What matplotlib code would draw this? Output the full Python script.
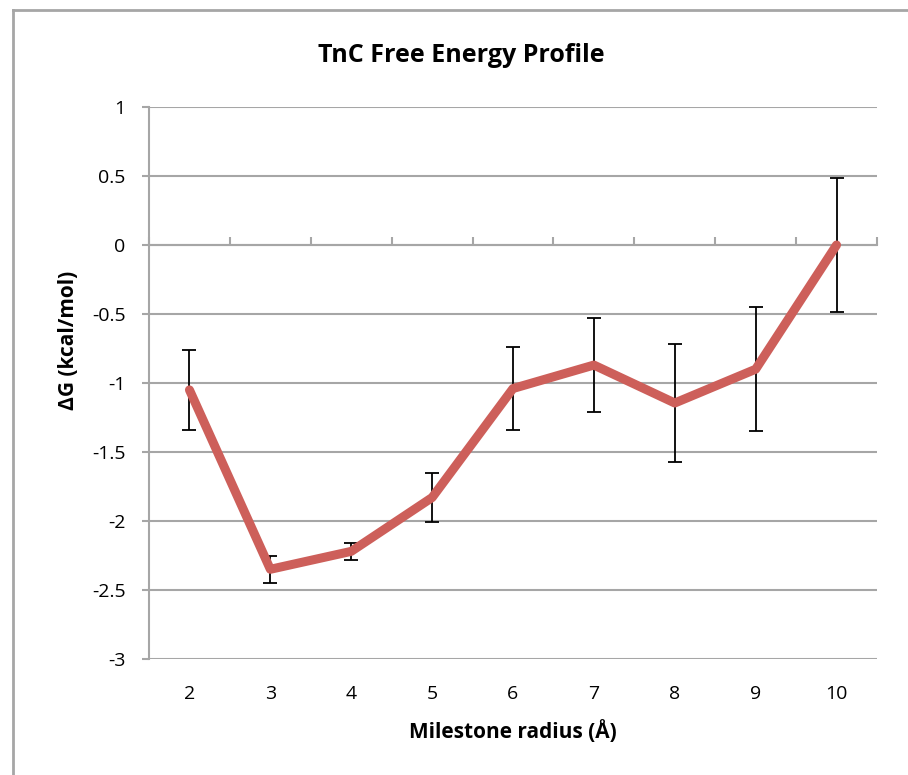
import matplotlib
matplotlib.use("Agg")
import matplotlib.pyplot as plt
from matplotlib.lines import Line2D

# milestone radius categories and free energy values (kcal/mol)
radius = ["2", "3", "4", "5", "6", "7", "8", "9", "10"]
delta_g = [-1.05, -2.35, -2.22, -1.83, -1.04, -0.87, -1.145, -0.90, 0.0]
err = [0.29, 0.10, 0.06, 0.175, 0.30, 0.34, 0.43, 0.45, 0.485]
y_ticks = [1, 0.5, 0, -0.5, -1, -1.5, -2, -2.5, -3]
y_tick_labels = ["1", "0.5", "0", "-0.5", "-1", "-1.5", "-2", "-2.5", "-3"]

plt.rcParams['font.family'] = ['Open Sans', 'DejaVu Sans']
grid_color = '#a6a6a6'

fig = plt.figure(figsize=(9.08, 7.75), dpi=100)
ax = fig.add_axes([149 / 908, 1 - 659 / 775, 728 / 908, 552 / 775])

x = list(range(len(radius)))
ax.errorbar(x, delta_g, yerr=err, fmt='none', ecolor='black',
            elinewidth=1.3, capsize=5, capthick=1.3, zorder=3)
ax.plot(x, delta_g, color='#cd5f5a', linewidth=6.5, solid_capstyle='round',
        solid_joinstyle='round', zorder=4)

ax.set_xlim(-0.5, len(radius) - 0.5)
ax.set_ylim(-3, 1)
ax.set_yticks(y_ticks)
ax.set_yticklabels(y_tick_labels)
ax.set_xticks(x)
ax.set_xticklabels(radius)
ax.grid(axis='y', color=grid_color, linewidth=1.5)
ax.set_axisbelow(True)

for side in ('top', 'right', 'bottom'):
    ax.spines[side].set_visible(False)
ax.spines['left'].set_color(grid_color)
ax.spines['left'].set_linewidth(1.5)
ax.tick_params(axis='y', direction='out', length=5, width=1.5,
               color=grid_color, labelsize=14, pad=12)
ax.tick_params(axis='x', length=0, labelsize=14, pad=19)

# category axis crossing at zero with boundary tick marks
zero_frac = (0 - (-3)) / 4
sec = ax.secondary_xaxis(zero_frac)
sec.set_xticks([i - 0.5 for i in range(len(radius) + 1)])
sec.set_xticklabels([])
sec.tick_params(direction='out', length=6, width=1.5, color=grid_color)
for sp in sec.spines.values():
    sp.set_color(grid_color)
    sp.set_linewidth(1.5)

fig.text(68 / 908, 1 - 340 / 775, "ΔG (kcal/mol)", rotation=90, ha='center',
         va='center', fontsize=15, fontweight='bold')
fig.text(513 / 908, 1 - 732 / 775, "Milestone radius (Å)", ha='center',
         va='center', fontsize=15, fontweight='bold')
fig.text(461 / 908, 1 - 55 / 775, "TnC Free Energy Profile", ha='center',
         va='center', fontsize=18, fontweight='bold')

# chart area border
fig.add_artist(Line2D([13 / 908, 13 / 908], [1 - 10 / 775, 0],
                      transform=fig.transFigure, color=grid_color, linewidth=2))
fig.add_artist(Line2D([13 / 908, 1], [1 - 10 / 775, 1 - 10 / 775],
                      transform=fig.transFigure, color=grid_color, linewidth=2))

fig.savefig("out.png", dpi=100)
